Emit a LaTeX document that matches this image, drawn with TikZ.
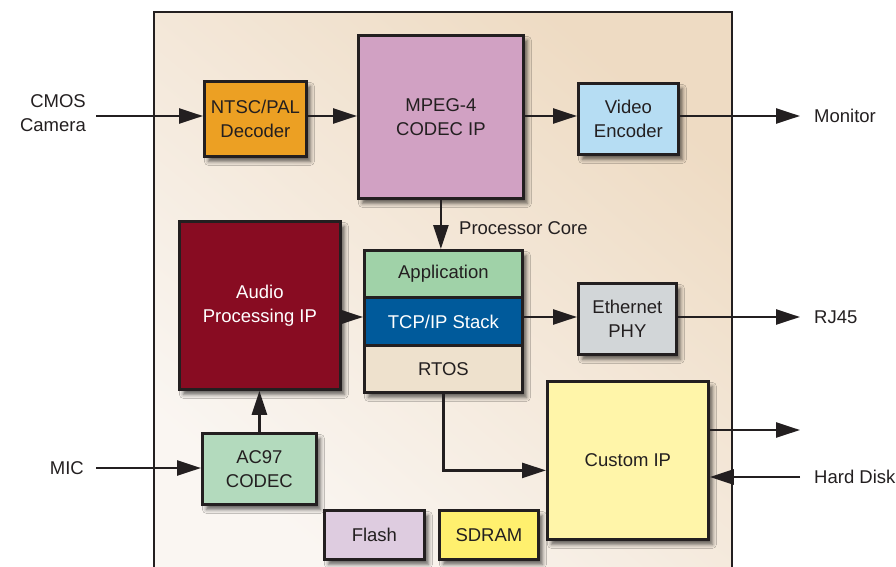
\documentclass[tikz,border=0pt]{standalone}
\usepackage{fontspec}
\setmainfont{Liberation Sans}
\usetikzlibrary{arrows.meta,shadows.blur,calc}
\definecolor{ink}{HTML}{231F20}
\definecolor{bgdark}{HTML}{EEDBC3}
\definecolor{bglight}{HTML}{FAF6F2}
\definecolor{cdec}{HTML}{ECA023}
\definecolor{cmpeg}{HTML}{D1A1C3}
\definecolor{cvenc}{HTML}{B6DDF3}
\definecolor{caudio}{HTML}{880C22}
\definecolor{capp}{HTML}{A0D2A8}
\definecolor{ctcp}{HTML}{005A9B}
\definecolor{crtos}{HTML}{EEE1CD}
\definecolor{ceth}{HTML}{D2D6D8}
\definecolor{ccustom}{HTML}{FFF5A9}
\definecolor{cac}{HTML}{B3DABD}
\definecolor{cflash}{HTML}{DECCE0}
\definecolor{csdram}{HTML}{FFF06E}
\begin{document}
\begin{tikzpicture}[x=1pt,y=-1pt,
  font=\fontsize{18.5}{24}\selectfont,
  blk/.style={draw=ink, line width=2.8pt, anchor=north west, align=center, text=ink, inner sep=0pt,
     blur shadow={shadow xshift=4pt, shadow yshift=-5pt, shadow blur radius=4pt, shadow opacity=60}},
  layer/.style={draw=ink, line width=2.8pt, anchor=north west, align=center, text=ink, inner sep=0pt},
  conn/.style={draw=ink, line width=2.6pt, -{Triangle[length=24pt,width=15pt]}},
  lab/.style={text=ink, inner sep=0pt, align=right}]
\useasboundingbox (0,0) rectangle (896,567);
% background board
\shade[top color=bgdark, bottom color=bglight, shading angle=-40] (154,12) rectangle (732,567);
\draw[ink, line width=2.4pt] (154,567) -- (154,12) -- (732,12) -- (732,567);

% blocks
\node[blk, fill=cdec, minimum width=102pt, minimum height=75pt] (dec) at (203,80) {NTSC/PAL\\Decoder};
\node[blk, fill=cmpeg, minimum width=165pt, minimum height=163pt] (mpeg) at (357,34) {MPEG-4\\CODEC IP};
\node[blk, fill=cvenc, minimum width=100pt, minimum height=71pt] (venc) at (577,82) {Video\\Encoder};
\node[blk, fill=caudio, text=white, minimum width=161pt, minimum height=168pt] (audio) at (178,220) {Audio\\Processing IP};
\node[blk, fill=crtos, minimum width=158pt, minimum height=142pt] (core) at (363,249) {};
\node[layer, fill=capp, minimum width=158pt, minimum height=47pt] (app) at (363,249) {Application};
\node[layer, fill=ctcp, text=white, minimum width=158pt, minimum height=48pt] (tcp) at (363,296) {TCP/IP Stack};
\node[layer, fill=crtos, minimum width=158pt, minimum height=47pt] (rtos) at (363,344) {RTOS};
\node[blk, fill=ceth, minimum width=98pt, minimum height=71pt] (eth) at (577,282) {Ethernet\\PHY};
\node[blk, fill=ccustom, minimum width=161pt, minimum height=158pt] (custom) at (546,380) {Custom IP};
\node[blk, fill=cac, minimum width=114pt, minimum height=71pt] (ac97) at (201,432) {AC97\\CODEC};
\node[blk, fill=cflash, minimum width=100pt, minimum height=49pt] (flash) at (323,509) {Flash};
\node[blk, fill=csdram, minimum width=99pt, minimum height=49pt] (sdram) at (438,509) {SDRAM};

% external labels
\node[lab, anchor=east] (camlab) at (86,113) {CMOS\\Camera};
\node[lab, anchor=east] (miclab) at (84,468) {MIC};
\node[lab, anchor=west] (monlab) at (814,116) {Monitor};
\node[lab, anchor=west] (rjlab) at (814,317) {RJ45};
\node[lab, anchor=west] (hdlab) at (814,477) {Hard Disk};
\node[lab, anchor=west] (pclab) at (459,228) {Processor Core};

% free ends
\coordinate (cam) at (96,116);
\coordinate (mic) at (96,468);
\coordinate (mon) at (800,116);
\coordinate (rj) at (800,317);
\coordinate (out) at (800,430);
\coordinate (hd) at (800,477);

% connectors
\draw[conn] (cam) -- (cam -| dec.west);
\draw[conn] (dec.east |- cam) -- (cam -| mpeg.west);
\draw[conn] (mpeg.east |- cam) -- (cam -| venc.west);
\draw[conn] (venc.east |- mon) -- (mon);
\draw[conn] (mpeg.south) -- (mpeg.south |- app.north);
\draw[conn] (audio.east |- rj) -- (rj -| tcp.west);
\draw[conn] (tcp.east |- rj) -- (rj -| eth.west);
\draw[conn] (eth.east |- rj) -- (rj);
\draw[conn] (rtos.south) |- ([yshift=-10pt]custom.west);
\draw[conn] (custom.east |- out) -- (out);
\draw[conn] (hd) -- (hd -| custom.east);
\draw[conn] (mic) -- (mic -| ac97.west);
\draw[conn] (ac97.north) -- (ac97.north |- audio.south);
\end{tikzpicture}
\end{document}
